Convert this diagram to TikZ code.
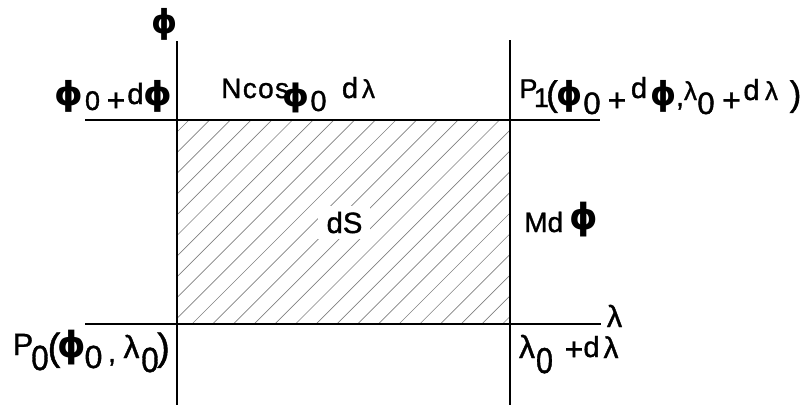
\documentclass[tikz,border=0pt]{standalone}
\usepackage{fontspec}
\setmainfont{Liberation Sans}
\newfontfamily\heavyfont{Liberation Sans}[FakeBold=1.2]
\newfontfamily\phifont{DejaVu Sans Bold}
\newcommand\PHI{{\phifont\char"03D5}}
\newcommand\LAM{λ}
% one glyph group: name, centre x, baseline y, em size (px), x-stretch, text
\newcommand\G[6]{%
  \pgfmathsetmacro\gs{#4*0.75}%
  \node[glyph,anchor=base] (#1) at (#2,#3)
    {\fontsize{\gs pt}{\gs pt}\selectfont\scalebox{#5}[1]{#6}};}
\begin{document}
\begin{tikzpicture}[x=0.75pt,y=-0.75pt,
  axis/.style={line width=1.5pt,black},
  hatch/.style={line width=0.5pt,black!50},
  glyph/.style={inner sep=0pt,font=\heavyfont}]
\useasboundingbox (0,0) rectangle (805,405);
% corners of the area element
\coordinate (A) at (177,324);
\coordinate (B) at (510,324);
\coordinate (C) at (510,120);
\coordinate (D) at (177,120);
% hatching
\begin{scope}
\clip (A) rectangle (C);
\foreach \k in {-12,...,16}{
  \pgfmathsetmacro\c{516+20.7*\k}
  \draw[hatch] (\c-324,324) -- (\c-120,120);
}
\end{scope}
% axes and grid lines
\coordinate (Ltop) at (177,41);
\coordinate (Lbot) at (177,405);
\coordinate (Rtop) at (510,40);
\coordinate (Rbot) at (510,405);
\coordinate (Tl) at (85,120);
\coordinate (Tr) at (600,120);
\coordinate (Bl) at (85,324);
\coordinate (Br) at (601,324);
\draw[axis] (Ltop) -- (Lbot);
\draw[axis] (Rtop) -- (Rbot);
\draw[axis] (Tl) -- (Tr);
\draw[axis] (Bl) -- (Br);
% dS with white ground
\fill[white] (318,206) rectangle (370,239);
\G{dS}{344.5}{233}{29.3}{1}{dS}
% axis labels
\G{phiaxis}{164.5}{33}{33}{1}{\PHI}
\G{lamaxis}{614.5}{327}{30.7}{1}{\LAM}
% phi0 + dphi
\G{ta}{69}{105}{33}{1.1}{\PHI}
\G{tb}{92.5}{110}{27}{1}{0}
\G{tc}{116}{111}{32}{1}{+}
\G{td}{135.5}{104}{29.3}{1}{d}
\G{te}{157.5}{105}{33}{1.1}{\PHI}
% N cos phi0 d lambda
\node[glyph,anchor=base west,font=\heavyfont\fontsize{21pt}{21pt}\selectfont] (na) at (221,98)
  {N\kern1pt c\kern1pt o\kern1pt s};
\G{nb}{296}{106.5}{31}{1.1}{\PHI}
\G{nc}{318.5}{111}{29}{1}{0}
\G{nd}{350}{98}{29}{1}{d}
\G{ne}{368.5}{98}{26}{1}{\LAM}
% P1(...)
\G{pa}{528.5}{98}{27}{1}{P}
\G{pb}{541.5}{107}{27}{1}{1}
\G{pc}{552}{105.6}{35}{1}{(}
\G{pd}{570}{105}{33}{1}{\PHI}
\G{pe}{592}{114}{31}{1}{0}
\G{pf}{617}{111}{32}{1}{+}
\G{pg}{639}{98}{29}{1}{d}
\G{ph}{663.5}{105}{33}{1}{\PHI}
\G{pi}{680}{106}{28}{1}{,}
\G{pj}{690.5}{100}{26}{1}{\LAM}
\G{pk}{706}{114}{31}{1}{0}
\G{pl}{731.5}{111}{32}{1}{+}
\G{pm}{751.5}{100}{29}{1}{d}
\G{pn}{771.5}{100}{26}{1}{\LAM}
\G{po}{795.5}{105.6}{35}{1}{)}
% M d phi
\node[glyph,anchor=base west,font=\heavyfont\fontsize{21pt}{21pt}\selectfont] (ma) at (524,232) {Md};
\G{mb}{583.5}{229.5}{36}{1}{\PHI}
% lambda0 + d lambda
\G{la}{527}{358}{32}{1}{\LAM}
\G{lb}{544.5}{373}{36}{0.85}{0}
\G{lc}{574}{360}{32}{1}{+}
\G{ld}{591.5}{357}{29}{1}{d}
\G{le}{611}{358}{30}{1}{\LAM}
% P0(phi0, lambda0)
\G{qa}{23}{355}{30.7}{1}{P}
\G{qb}{40}{370}{35}{0.9}{0}
\G{qc}{54}{360}{38}{1}{(}
\G{qd}{71.5}{357.5}{36}{1}{\PHI}
\G{qe}{93.5}{368}{32}{1}{0}
\G{qf}{112}{362}{28}{1}{,}
\G{qg}{131.5}{358}{32}{1}{\LAM}
\G{qh}{150}{372}{35}{0.9}{0}
\G{qi}{163.5}{360}{38}{1}{)}
\end{tikzpicture}
\end{document}
